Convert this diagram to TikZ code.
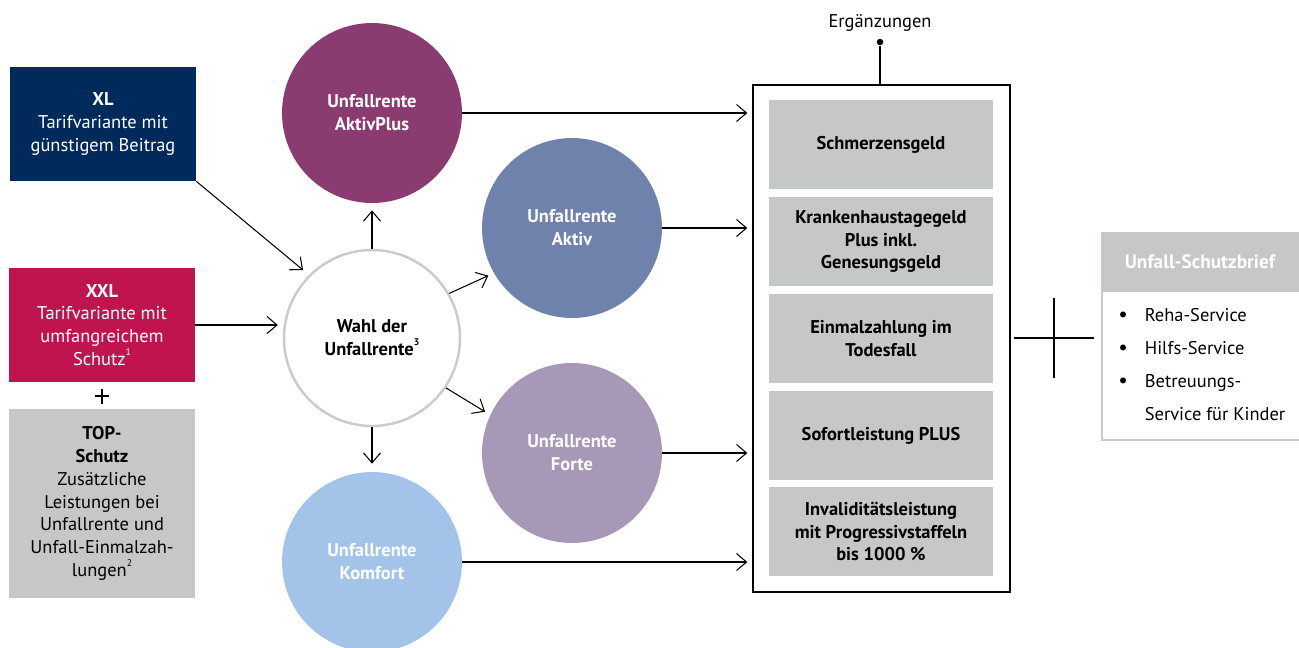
\documentclass[tikz,border=0pt]{standalone}
\usepackage{fontspec}
\setmainfont{PT Sans}
\usetikzlibrary{arrows.meta}

\definecolor{xlblue}{HTML}{002A5C}
\definecolor{xxlred}{HTML}{C0144F}
\definecolor{boxgray}{HTML}{C6C7C7}
\definecolor{ringgray}{HTML}{CBCBCB}
\definecolor{plum}{HTML}{8A3B70}
\definecolor{slate}{HTML}{6E82AB}
\definecolor{lilac}{HTML}{A898B8}
\definecolor{sky}{HTML}{A3C4E8}
\newcommand\grundschrift{\fontsize{10.5}{13}\selectfont}
\newcommand\hoch[1]{\raisebox{0.55em}{\fontsize{5.5}{6}\selectfont #1}}

\begin{document}
\begin{tikzpicture}[x=0.02cm, y=-0.02cm, font=\grundschrift,
  tarif/.style={minimum width=3.72cm, minimum height=2.28cm, inner sep=0pt, align=center, text=white},
  rente/.style={circle, minimum size=3.6cm, inner sep=0pt, align=center, text=white, font=\grundschrift\bfseries},
  leistung/.style={fill=boxgray, minimum width=4.48cm, minimum height=1.78cm, inner sep=0pt, align=center, font=\grundschrift\bfseries},
  pfeil/.style={-{Straight Barb[length=2mm,width=3.4mm]}, line width=0.6pt}]
\useasboundingbox (0,0) rectangle (1299,647);
% Tarifvarianten
\node[tarif, fill=xlblue] (xl) at (103,124) {\textbf{XL}\\Tarifvariante mit\\günstigem Beitrag};
\node[tarif, fill=xxlred] (xxl) at (102,325) {\textbf{XXL}\\Tarifvariante mit\\umfangreichem\\Schutz\hoch{1}};
\node[tarif, fill=boxgray, text=black, minimum height=3.78cm] (top) at (102,503.5) {\textbf{TOP-}\\\textbf{Schutz}\\Zusätzliche\\Leistungen bei\\Unfallrente und\\Unfall-Einmalzah-\\lungen\hoch{2}};
\coordinate (plusl) at (102,396);
\draw[line width=0.6pt] ([xshift=-0.15cm]plusl) -- ([xshift=0.15cm]plusl) ([yshift=-0.15cm]plusl) -- ([yshift=0.15cm]plusl);
% Unfallrenten
\node[circle, draw=ringgray, line width=1.4pt, minimum size=3.52cm, inner sep=0pt, align=center, font=\grundschrift\bfseries] (wahl) at (372,338) {Wahl der\\Unfallrente\hoch{3}};
\node[rente, fill=plum] (aplus) at (372,113) {Unfallrente\\AktivPlus};
\node[rente, fill=slate] (aktiv) at (572,228) {Unfallrente\\Aktiv};
\node[rente, fill=lilac] (forte) at (572,453) {Unfallrente\\Forte};
\node[rente, fill=sky] (komfort) at (372,562) {Unfallrente\\Komfort};
% Ergaenzungen
\node[draw, line width=0.8pt, minimum width=5.14cm, minimum height=10.14cm, inner sep=0pt] (erg) at (881.5,338.5) {};
\node[leistung] (l1) at (881,144.5) {Schmerzensgeld};
\node[leistung] (l2) at (881,241.5) {Krankenhaustagegeld\\Plus inkl.\\Genesungsgeld};
\node[leistung] (l3) at (881,338.5) {Einmalzahlung im\\Todesfall};
\node[leistung] (l4) at (881,435.5) {Sofortleistung PLUS};
\node[leistung] (l5) at (881,531.5) {Invaliditätsleistung\\mit Progressivstaffeln\\bis 1000~\%};
\node (ergtxt) at (880,23) {Ergänzungen};
\node[circle, fill, inner sep=0pt, minimum size=1.3mm] (punkt) at (880,42) {};
\draw[line width=0.6pt] (punkt) -- (erg.north -| punkt);
% Schutzbrief
\coordinate (plusr) at (1054,338);
\draw[line width=0.6pt] ([xshift=-0.8cm]plusr) -- ([xshift=0.8cm]plusr) ([yshift=-0.8cm]plusr) -- ([yshift=0.8cm]plusr);
\node[fill=boxgray, minimum width=3.96cm, minimum height=1.2cm, inner sep=0pt, text=white, font=\fontsize{11}{13}\selectfont\bfseries] (brief) at (1200,262) {Unfall-Schutzbrief};
\node[minimum width=3.96cm, minimum height=2.94cm, inner sep=0pt, anchor=north west] (liste) at (1102,292) {};
\draw[ringgray, line width=1.2pt] (liste.north west) -- (liste.south west) -- (liste.south east);
\node[anchor=north west, inner sep=0pt, font=\fontsize{10.5}{18.7}\selectfont] (punkte) at (1118,298.5)
  {\begin{tabular}{@{}l@{\hspace{3.4mm}}l@{}}{\large\textbullet} & Reha-Service\\ {\large\textbullet} & Hilfs-Service\\ {\large\textbullet} & Betreuungs-\\ & Service für Kinder\end{tabular}};
% Pfeile
\draw[pfeil, shorten >=1.5mm] (xl.south east) -- (wahl.135);
\draw[pfeil, shorten >=1mm] (xxl.east) -- (xxl.east -| wahl.west);
\draw[pfeil, shorten >=1.4mm] (wahl.north) -- (aplus.south);
\draw[pfeil, shorten >=1.6mm] (wahl.south) -- (komfort.north);
\draw[pfeil, shorten >=1.2mm] (wahl.30) -- (aktiv.210);
\draw[pfeil, shorten >=1.2mm] (wahl.-34) -- (forte.155);
\draw[pfeil, shorten >=1mm] (aplus.east) -- (aplus.east -| erg.west);
\draw[pfeil, shorten >=1mm] (aktiv.east) -- (aktiv.east -| erg.west);
\draw[pfeil, shorten >=1mm] (forte.east) -- (forte.east -| erg.west);
\draw[pfeil, shorten >=1mm] (komfort.east) -- (komfort.east -| erg.west);
\end{tikzpicture}
\end{document}
